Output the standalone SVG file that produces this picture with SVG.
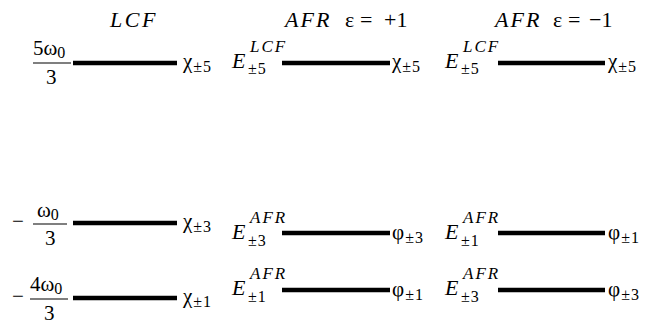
<svg xmlns="http://www.w3.org/2000/svg" width="649" height="328" viewBox="0 0 649 328">
<rect width="649" height="328" fill="#fff"/>
<g id="titles" fill="#000">
<text style="font-family:'Liberation Serif',serif !important" font-size="22" font-style="italic" letter-spacing="2.5" x="110" y="27">LCF</text>
<text style="font-family:'Liberation Serif',serif !important" font-size="22" font-style="italic" letter-spacing="2" x="285" y="27">AFR</text>
<text style="font-family:'Liberation Serif',serif !important" font-size="22" x="345" y="27">ε</text>
<text style="font-family:'Liberation Serif',serif !important" font-size="22" x="360" y="27">=</text>
<text style="font-family:'Liberation Serif',serif !important" font-size="22" x="384" y="27">+1</text>
<text style="font-family:'Liberation Serif',serif !important" font-size="22" font-style="italic" letter-spacing="2" x="495" y="27">AFR</text>
<text style="font-family:'Liberation Serif',serif !important" font-size="22" x="553" y="27">ε</text>
<text style="font-family:'Liberation Serif',serif !important" font-size="22" x="568" y="27">=</text>
<text style="font-family:'Liberation Serif',serif !important" font-size="22" x="589" y="27">−1</text>
</g>
<g id="connectors" stroke="#000" stroke-width="4.5" fill="none">
<line x1="73" y1="63" x2="177" y2="63"/>
<line x1="73" y1="223" x2="177" y2="223"/>
<line x1="73" y1="298" x2="177" y2="298"/>
<line x1="282" y1="63" x2="390" y2="63"/>
<line x1="282" y1="233" x2="390" y2="233"/>
<line x1="282" y1="290" x2="390" y2="290"/>
<line x1="498" y1="63" x2="605" y2="63"/>
<line x1="498" y1="233" x2="605" y2="233"/>
<line x1="498" y1="290" x2="605" y2="290"/>
</g>
<g id="lcf5">
<text style="font-family:'Liberation Serif',serif !important" font-size="21" x="33" y="55">5ω<tspan font-size="16" dy="3">0</tspan></text>
<line x1="33" y1="63" x2="71" y2="63" stroke="#000" stroke-width="1.2"/>
<text style="font-family:'Liberation Serif',serif !important" font-size="21" x="46" y="84">3</text>
<text style="font-family:'Liberation Serif',serif !important" font-size="21" x="183" y="68">χ<tspan font-size="16" letter-spacing="1" dx="1" dy="4">±5</tspan></text>
</g>
<g id="lcf3">
<text style="font-family:'Liberation Serif',serif !important" font-size="21" x="12" y="228">−</text>
<text style="font-family:'Liberation Serif',serif !important" font-size="21" x="37" y="217">ω<tspan font-size="16" dy="3">0</tspan></text>
<line x1="33" y1="224" x2="67" y2="224" stroke="#000" stroke-width="1.2"/>
<text style="font-family:'Liberation Serif',serif !important" font-size="21" x="45" y="245">3</text>
<text style="font-family:'Liberation Serif',serif !important" font-size="21" x="183" y="228">χ<tspan font-size="16" letter-spacing="1" dx="1" dy="4">±3</tspan></text>
</g>
<g id="lcf1">
<text style="font-family:'Liberation Serif',serif !important" font-size="21" x="12" y="303">−</text>
<text style="font-family:'Liberation Serif',serif !important" font-size="21" x="30" y="291">4ω<tspan font-size="16" dy="3">0</tspan></text>
<line x1="30" y1="299" x2="68" y2="299" stroke="#000" stroke-width="1.2"/>
<text style="font-family:'Liberation Serif',serif !important" font-size="21" x="44" y="320">3</text>
<text style="font-family:'Liberation Serif',serif !important" font-size="21" x="183" y="303">χ<tspan font-size="16" letter-spacing="1" dx="1" dy="4">±1</tspan></text>
</g>
<g id="afrp5">
<text style="font-family:'Liberation Serif',serif !important" font-size="22" font-style="italic" x="232" y="68">E</text>
<text style="font-family:'Liberation Serif',serif !important" font-size="17" font-style="italic" letter-spacing="2" x="250" y="52">LCF</text>
<text style="font-family:'Liberation Serif',serif !important" font-size="16" letter-spacing="1" x="248" y="74">±5</text>
<text style="font-family:'Liberation Serif',serif !important" font-size="21" x="392" y="68">χ<tspan font-size="16" letter-spacing="1" dx="1" dy="4">±5</tspan></text>
</g>
<g id="afrp3">
<text style="font-family:'Liberation Serif',serif !important" font-size="22" font-style="italic" x="232" y="239">E</text>
<text style="font-family:'Liberation Serif',serif !important" font-size="17" font-style="italic" letter-spacing="2" x="250" y="223">AFR</text>
<text style="font-family:'Liberation Serif',serif !important" font-size="16" letter-spacing="1" x="248" y="246">±3</text>
<text style="font-family:'Liberation Serif',serif !important" font-size="21" x="392" y="239">φ<tspan font-size="16" letter-spacing="1" dx="1" dy="4">±3</tspan></text>
</g>
<g id="afrp1">
<text style="font-family:'Liberation Serif',serif !important" font-size="22" font-style="italic" x="232" y="295">E</text>
<text style="font-family:'Liberation Serif',serif !important" font-size="17" font-style="italic" letter-spacing="2" x="250" y="279">AFR</text>
<text style="font-family:'Liberation Serif',serif !important" font-size="16" letter-spacing="1" x="248" y="302">±1</text>
<text style="font-family:'Liberation Serif',serif !important" font-size="21" x="392" y="296">φ<tspan font-size="16" letter-spacing="1" dx="1" dy="4">±1</tspan></text>
</g>
<g id="afrm5">
<text style="font-family:'Liberation Serif',serif !important" font-size="22" font-style="italic" x="445" y="68">E</text>
<text style="font-family:'Liberation Serif',serif !important" font-size="17" font-style="italic" letter-spacing="2" x="463" y="52">LCF</text>
<text style="font-family:'Liberation Serif',serif !important" font-size="16" letter-spacing="1" x="461" y="74">±5</text>
<text style="font-family:'Liberation Serif',serif !important" font-size="21" x="608" y="68">χ<tspan font-size="16" letter-spacing="1" dx="1" dy="4">±5</tspan></text>
</g>
<g id="afrm1">
<text style="font-family:'Liberation Serif',serif !important" font-size="22" font-style="italic" x="445" y="239">E</text>
<text style="font-family:'Liberation Serif',serif !important" font-size="17" font-style="italic" letter-spacing="2" x="463" y="223">AFR</text>
<text style="font-family:'Liberation Serif',serif !important" font-size="16" letter-spacing="1" x="461" y="246">±1</text>
<text style="font-family:'Liberation Serif',serif !important" font-size="21" x="608" y="239">φ<tspan font-size="16" letter-spacing="1" dx="1" dy="4">±1</tspan></text>
</g>
<g id="afrm3">
<text style="font-family:'Liberation Serif',serif !important" font-size="22" font-style="italic" x="445" y="295">E</text>
<text style="font-family:'Liberation Serif',serif !important" font-size="17" font-style="italic" letter-spacing="2" x="463" y="279">AFR</text>
<text style="font-family:'Liberation Serif',serif !important" font-size="16" letter-spacing="1" x="461" y="302">±3</text>
<text style="font-family:'Liberation Serif',serif !important" font-size="21" x="608" y="296">φ<tspan font-size="16" letter-spacing="1" dx="1" dy="4">±3</tspan></text>
</g>
</svg>
